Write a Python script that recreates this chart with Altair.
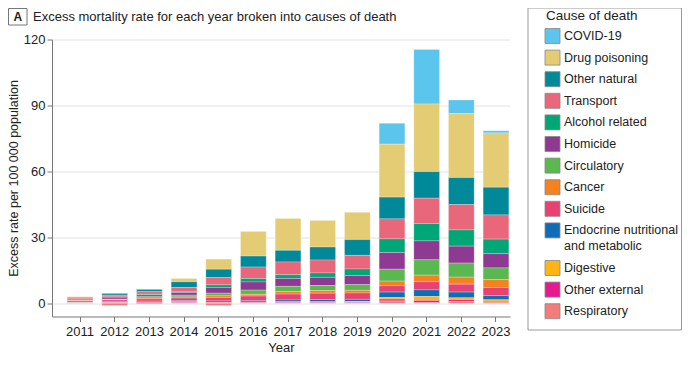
import altair as alt
import pandas as pd

years = [str(y) for y in range(2011, 2024)]
causes = ["COVID-19", "Drug poisoning", "Other natural", "Transport", "Alcohol related",
          "Homicide", "Circulatory", "Cancer", "Suicide",
          "Endocrine nutritional and metabolic", "Digestive", "Other external", "Respiratory"]
colors = ["#5BC5EE", "#E3CC74", "#008A99", "#E8677A", "#00A676", "#8E3A92", "#5BB74F",
          "#F58220", "#E84274", "#0F6CB6", "#FDB515", "#E6198F", "#F27C7A"]

covid      = [0, 0, 0, 0, 0, 0, 0, 0, 0, 9.5, 24.8, 6.2, 1.0]
drug       = [0.3, 0.2, 0.2, 1.5, 4.6, 11.2, 14.5, 12.1, 12.4, 24.1, 30.8, 29.1, 24.7]
other_nat  = [0.3, 0.8, 1.0, 2.6, 3.8, 5.0, 5.3, 5.9, 7.2, 9.9, 12.1, 12.3, 12.6]
transport  = [0.5, 0.8, 1.2, 1.8, 3.3, 5.2, 5.8, 5.9, 6.2, 9.1, 11.5, 11.5, 11.0]
alcohol    = [0.1, 0.2, 0.3, 0.5, 1.2, 1.6, 1.7, 2.0, 3.0, 6.2, 7.9, 7.4, 6.6]
homicide   = [0.5, 0.8, 0.8, 1.2, 2.6, 3.7, 3.6, 3.7, 4.1, 7.6, 8.6, 7.7, 6.5]
circ       = [0.1, 0.2, 0.6, 0.8, 1.2, 1.9, 2.3, 2.3, 2.6, 5.4, 7.0, 6.4, 5.3]
cancer     = [0.1, 0.2, 0.4, 0.5, 0.8, 0.8, 1.2, 1.2, 1.2, 2.1, 3.0, 3.2, 3.6]
suicide    = [0.6, 0.8, 1.0, 1.2, 1.5, 2.1, 2.7, 2.9, 2.9, 2.9, 3.7, 3.6, 3.7]
endocrine  = [0.2, 0.3, 0.4, 0.5, 0.6, 0.6, 0.8, 1.0, 1.0, 2.5, 3.0, 2.6, 1.9]
digestive  = [0.1, 0.1, 0.2, 0.2, 0.2, 0.2, 0.2, 0.2, 0.3, 0.7, 1.8, 0.9, 0.7]
other_ext  = [0.1, 0.3, 0.4, 0.3, 0.3, 0.3, 0.3, 0.3, 0.3, 0.8, 1.0, 0.8, 0.4]
respir     = [0.1, -1.0, -0.3, 0.2, -1.0, 0.1, 0.2, 0.2, 0.2, 1.1, 0.3, 0.8, 0.5]

series = [covid, drug, other_nat, transport, alcohol, homicide, circ, cancer, suicide,
          endocrine, digestive, other_ext, respir]

rows = []
for ci, (c, vals) in enumerate(zip(causes, series)):
    for y, v in zip(years, vals):
        rows.append({"year": y, "cause": c, "value": v, "ord": len(causes) - ci})
df = pd.DataFrame(rows)

# legend entries (the two-line entry takes extra room)
wrap_idx = causes.index("Endocrine nutritional and metabolic")
leg = pd.DataFrame({
    "cause": causes,
    "label": [c if i != wrap_idx else "Endocrine nutritional\nand metabolic" for i, c in enumerate(causes)],
    "slot": [i + (0.74 if i > wrap_idx else 0.0) for i in range(len(causes))],
})

FONT = "Liberation Sans Narrow, Liberation Sans, sans-serif"
color_enc = alt.Color("cause:N", sort=causes, scale=alt.Scale(domain=causes, range=colors), legend=None)

bars = alt.Chart(df).mark_bar(stroke="white", strokeWidth=0.4, strokeOpacity=0.6).encode(
    x=alt.X("year:N", title="Year",
            scale=alt.Scale(paddingInner=0.258, paddingOuter=0.236, align=0.93),
            axis=alt.Axis(labelAngle=0, labelFontSize=13, titleFontSize=13, titleFontWeight="normal",
                          tickSize=5, domainColor="#777", tickColor="#777", labelColor="#222",
                          titleColor="#222", labelPadding=4, titlePadding=3)),
    y=alt.Y("value:Q", stack="zero", title="Excess rate per 100 000 population",
            scale=alt.Scale(domain=[-6, 120], nice=False, zero=False),
            axis=alt.Axis(values=[0, 30, 60, 90, 120], labelFontSize=13, titleFontSize=12.5,
                          titleFontWeight="normal", tickSize=5, domainColor="#777", tickColor="#777",
                          gridColor="#e2e2e2", labelColor="#222", titleColor="#222", titlePadding=3)),
    color=color_enc,
    order=alt.Order("ord:Q", sort="ascending"),
)

dummy = pd.DataFrame({"a": [0]})

leg_y = alt.Y("slot:Q", scale=alt.Scale(domain=[0, 12.74], range=[-3.5, 271.7], nice=False, zero=False),
              axis=None)
leg_box = alt.Chart(dummy).mark_rect(fill="white", stroke="#999", strokeWidth=1).encode(
    x=alt.value(476), x2=alt.value(629.5), y=alt.value(-31.5), y2=alt.value(290.5))
leg_title = alt.Chart(dummy).mark_text(text="Cause of death", fontSize=13.5, font=FONT, color="#222",
                                       align="left", baseline="middle").encode(
    x=alt.value(494), y=alt.value(-24))
leg_sym = alt.Chart(leg).mark_square(size=225, opacity=1, stroke="#888", strokeWidth=0.8).encode(
    x=alt.value(500.5), y=leg_y, color=color_enc)
leg_lab = alt.Chart(leg).mark_text(fontSize=12.5, font=FONT, color="#222", align="left",
                                   baseline="middle", lineBreak="\n", lineHeight=15.5).encode(
    x=alt.value(512), y=leg_y, text="label:N")

box = alt.Chart(dummy).mark_rect(fill="white", stroke="#777", strokeWidth=1).encode(
    x=alt.value(-43.5), x2=alt.value(-25), y=alt.value(-31), y2=alt.value(-14.5))
letter = alt.Chart(dummy).mark_text(text="A", fontSize=12, fontWeight="bold", font=FONT,
                                    color="#222", align="center", baseline="middle").encode(
    x=alt.value(-34.2), y=alt.value(-22.5))
ttl = alt.Chart(dummy).mark_text(text="Excess mortality rate for each year broken into causes of death",
                                 fontSize=13, font=FONT, color="#222", align="left",
                                 baseline="middle").encode(x=alt.value(-19), y=alt.value(-22.5))

chart = alt.layer(bars, leg_box, leg_title, leg_sym, leg_lab, box, letter, ttl).resolve_scale(
    y="independent"
).properties(
    width=458, height=277,
    padding={"left": 44, "top": 31.5, "right": 172, "bottom": 40.5},
    autosize=alt.AutoSizeParams(type="none"),
).configure(font=FONT).configure_view(stroke=None).configure_axis(labelFont=FONT, titleFont=FONT)

chart.save("out.html", embed_options={"renderer": "svg", "actions": False})
